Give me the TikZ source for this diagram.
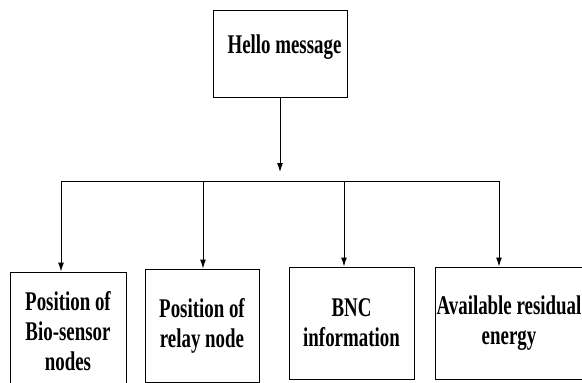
\documentclass[tikz,border=0pt]{standalone}
\usepackage{fontspec}
\newfontfamily\boxfont{Liberation Serif}[FakeStretch=0.70]
\usetikzlibrary{arrows.meta, positioning}

\begin{document}
\begin{tikzpicture}[x=1pt, y=-1pt,
              BX/.style = {draw, line width=1pt, align=center, inner sep=0pt,
              font=\boxfont\bfseries\fontsize{27}{30}\selectfont},
              AR/.style = {line width=1pt, -{Latex[length=9pt, width=6pt]}} ]
   \clip (0,0) rectangle (582,383);

   \node (hello) [BX, minimum width=134, minimum height=87] at (280,53.5)
                 {\hspace*{9pt}\raisebox{6pt}[\height][\depth]{Hello message}};

   \node (bio)   [BX, minimum width=116, minimum height=118] at (68,331)
                 {Position of\\Bio-sensor\\nodes};
   \node (relay) [BX, minimum width=114, minimum height=113] at (202,325.5)
                 {Position of\\relay node};
   \node (bnc)   [BX, minimum width=125, minimum height=112] at (351.5,323)
                 {BNC\\information};
   \node (energy)[BX, minimum width=148, minimum height=112] at (509,323)
                 {Available residual\\energy};

   % bus line
   \coordinate (hub) at (280,172);
   \coordinate (j1) at (61,181);
   \coordinate (j2) at (203,181);
   \coordinate (j3) at (344,181);
   \coordinate (j4) at (499,181);

   \draw[AR] (hello) -- (hub);
   \draw[line width=1pt] (j1) -- (j4);
   \draw[AR] (j1) -- (j1 |- bio.north);
   \draw[AR] (j2) -- (j2 |- relay.north);
   \draw[AR] (j3) -- (j3 |- bnc.north);
   \draw[AR] (j4) -- (j4 |- energy.north);
\end{tikzpicture}
\end{document}
